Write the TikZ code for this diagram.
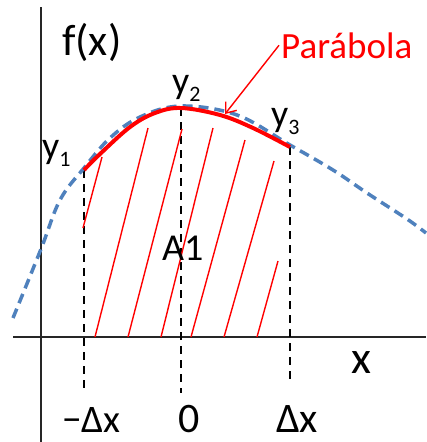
\documentclass[tikz,border=0pt]{standalone}
\usepackage{fontspec}
\setmainfont{Carlito}
\usetikzlibrary{arrows.meta}
\definecolor{curveblue}{RGB}{79,129,189}
\newcommand{\lowidx}[1]{\raisebox{-8pt}{\fontsize{22}{22}\selectfont #1}}
\tikzset{
  lbl/.style={inner sep=0pt,anchor=base west,font=\fontsize{38}{40}\selectfont},
  big/.style={lbl,font=\fontsize{43}{46}\selectfont},
  guide/.style={black,line width=1.6pt,dash pattern=on 8pt off 6pt},
  hatch/.style={red,line width=1.4pt},
}

\begin{document}
\begin{tikzpicture}[x=1pt,y=-1pt]
\useasboundingbox (0,0) rectangle (426,442);
\coordinate (ytop) at (41,7);
\coordinate (ybot) at (41,442);
\coordinate (xleft) at (13,337);
\coordinate (xright) at (426,337);
\coordinate (p1) at (84,170);
\coordinate (p2) at (181,108);
\coordinate (p3) at (290,147);
\coordinate (q1) at (84,391);
\coordinate (q2) at (181,393);
\coordinate (q3) at (290,383);
\coordinate (arrtip) at (225,114);
\draw[black!85,line width=2pt]
    (ytop) -- (ybot)
    (xleft) -- (xright);
\draw[guide] (p1) -- (q1) (p2) -- (q2) (p3) -- (q3);
\foreach \xa/\ya/\xb/\yb in {83/228/102/157,95/337/148/128,128/337/182/129,
    161/337/213/128,191/337/245/140,224/337/274/161,257/337/278/261}
  \draw[hatch] (\xa,\ya) -- (\xb,\yb);
\draw[curveblue,line width=3.5pt,dash pattern=on 10pt off 6pt]
    plot[smooth,tension=0.6] coordinates {(13,318) (41,249) (60,200) (84,168)
    (110,138) (140,117) (181,106) (237,115) (290,145) (333,170) (367,193)
    (407,219) (426,233)};
\draw[red,line width=4pt] plot[smooth,tension=0.6] coordinates {(p1) (100,154)
    (130,127) (155,113) (p2) (220,115) (253,128) (p3)};
\node[big,font=\fontsize{44}{46}\selectfont] (fx) at (62,55) {f(x)};
\node[lbl,red,font=\fontsize{37}{40}\selectfont] (parab) at (281,58) {Parábola};
\node[lbl] (yone) at (42,158) {y\lowidx{1}};
\node[lbl] (ytwo) at (172,93) {y\lowidx{2}};
\node[lbl] (ythree) at (271,126) {y\lowidx{3}};
\node[lbl] (area) at (162,260) {A1};
\node[big,font=\fontsize{46}{48}\selectfont] (xlab) at (351,373) {x};
\node[lbl,font=\fontsize{39}{42}\selectfont] (mdx) at (62,432) {−Δx};
\node[big,font=\fontsize{42}{44}\selectfont] (zero) at (178,432) {0};
\node[big,font=\fontsize{42}{44}\selectfont] (pdx) at (276,432) {Δx};
\draw[red,line width=1.4pt,-{Straight Barb[length=9pt,width=14pt]}]
    ([xshift=-2pt]parab.west) -- (arrtip);
\end{tikzpicture}
\end{document}
